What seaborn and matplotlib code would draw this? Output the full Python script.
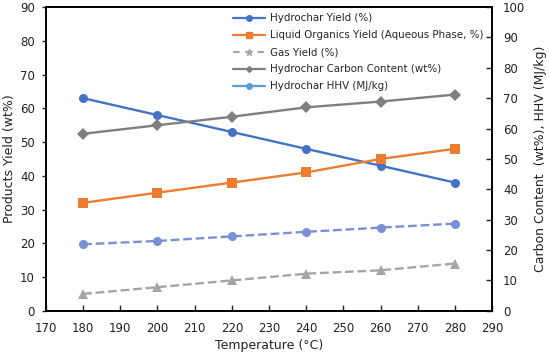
import matplotlib
matplotlib.use("Agg")
import matplotlib.pyplot as plt
import seaborn as sns
import pandas as pd
from matplotlib.lines import Line2D

temperature = [180, 200, 220, 240, 260, 280]
hydrochar_yield = [63, 58, 53, 48, 43, 38]
liquid_yield = [32, 35, 38, 41, 45, 48]
gas_yield = [5, 7, 9, 11, 12, 14]
carbon_content = [58.3, 61.1, 63.9, 67.0, 68.9, 71.2]
hhv = [21.9, 23.0, 24.5, 26.0, 27.4, 28.7]

sns.set_theme(style="white")
plt.rcParams['font.family'] = ['DejaVu Sans']

fig = plt.figure(figsize=(5.5, 3.56), dpi=100)
ax = fig.add_axes([0.0836, 0.127, 0.811, 0.853])
ax2 = ax.twinx()

df = pd.DataFrame({"T": temperature, "hy": hydrochar_yield, "ly": liquid_yield,
                   "gy": gas_yield, "cc": carbon_content, "hhv": hhv})

blue = "#4472c4"
orange = "#ed7d31"
grey = "#a5a5a5"
dgrey = "#7f7f7f"
lblue = "#5b9bd5"

sns.lineplot(data=df, x="T", y="hy", ax=ax, color=blue, marker="o", markersize=6.5,
             markeredgewidth=0, lw=1.7, legend=False)
sns.lineplot(data=df, x="T", y="ly", ax=ax, color=orange, marker="s", markersize=6.5,
             markeredgewidth=0, lw=1.7, legend=False)
sns.lineplot(data=df, x="T", y="gy", ax=ax, color=grey, marker="^", markersize=6.5,
             markeredgewidth=0, lw=1.7, dashes=(3, 2.5), linestyle="--", legend=False)
sns.lineplot(data=df, x="T", y="cc", ax=ax2, color=dgrey, marker="D", markersize=6,
             markeredgewidth=0, lw=1.7, legend=False)
sns.lineplot(data=df, x="T", y="hhv", ax=ax2, color="#7b8fd6", marker="o", markersize=6.5,
             markeredgewidth=0, lw=1.7, dashes=(5, 3), linestyle="--", legend=False)

ax.set_xlim(170, 290)
ax.set_ylim(0, 90)
ax2.set_ylim(0, 100)
ax.set_xticks(range(170, 291, 10))
ax.set_yticks(range(0, 91, 10))
ax2.set_yticks(range(0, 101, 10))

tc = "#222222"
ax.set_xlabel("Temperature (°C)", fontsize=9, color=tc, labelpad=3)
ax.set_ylabel("Products Yield (wt%)", fontsize=9, color=tc, labelpad=3)
ax2.set_ylabel("Carbon Content  (wt%), HHV (MJ/kg)", fontsize=9, color=tc, labelpad=6)

ax.tick_params(axis="x", direction="in", length=4, width=1, labelsize=8.5, colors=tc, pad=8,
               bottom=True, top=False)
ax.tick_params(axis="y", direction="out", length=3, width=1, labelsize=8.5, colors=tc, pad=5,
               left=True, right=False)
ax2.tick_params(axis="y", direction="in", length=4, width=1, labelsize=8.5, colors=tc, pad=8,
                right=True)
for a in (ax, ax2):
    for s in a.spines.values():
        s.set_color("black")
        s.set_linewidth(1.2)

handles = [
    Line2D([], [], color=blue, marker="o", markersize=4, lw=1.6),
    Line2D([], [], color=orange, marker="s", markersize=4, lw=1.6),
    Line2D([], [], color=grey, marker="*", markersize=5, lw=1.6, linestyle=(0, (3, 2.5))),
    Line2D([], [], color=dgrey, marker="D", markersize=3, lw=1.6),
    Line2D([], [], color=lblue, marker="o", markersize=4, lw=1.6),
]
labels = ["Hydrochar Yield (%)", "Liquid Organics Yield (Aqueous Phase, %)", "Gas Yield (%)",
          "Hydrochar Carbon Content (wt%)", "Hydrochar HHV (MJ/kg)"]
ax2.legend(handles, labels, loc="upper left", bbox_to_anchor=(0.405, 1.0), frameon=False,
           fontsize=7.4, handlelength=3.1, handletextpad=0.5, labelspacing=0.68,
           borderaxespad=0.2)

fig.savefig("out.png", dpi=100)
